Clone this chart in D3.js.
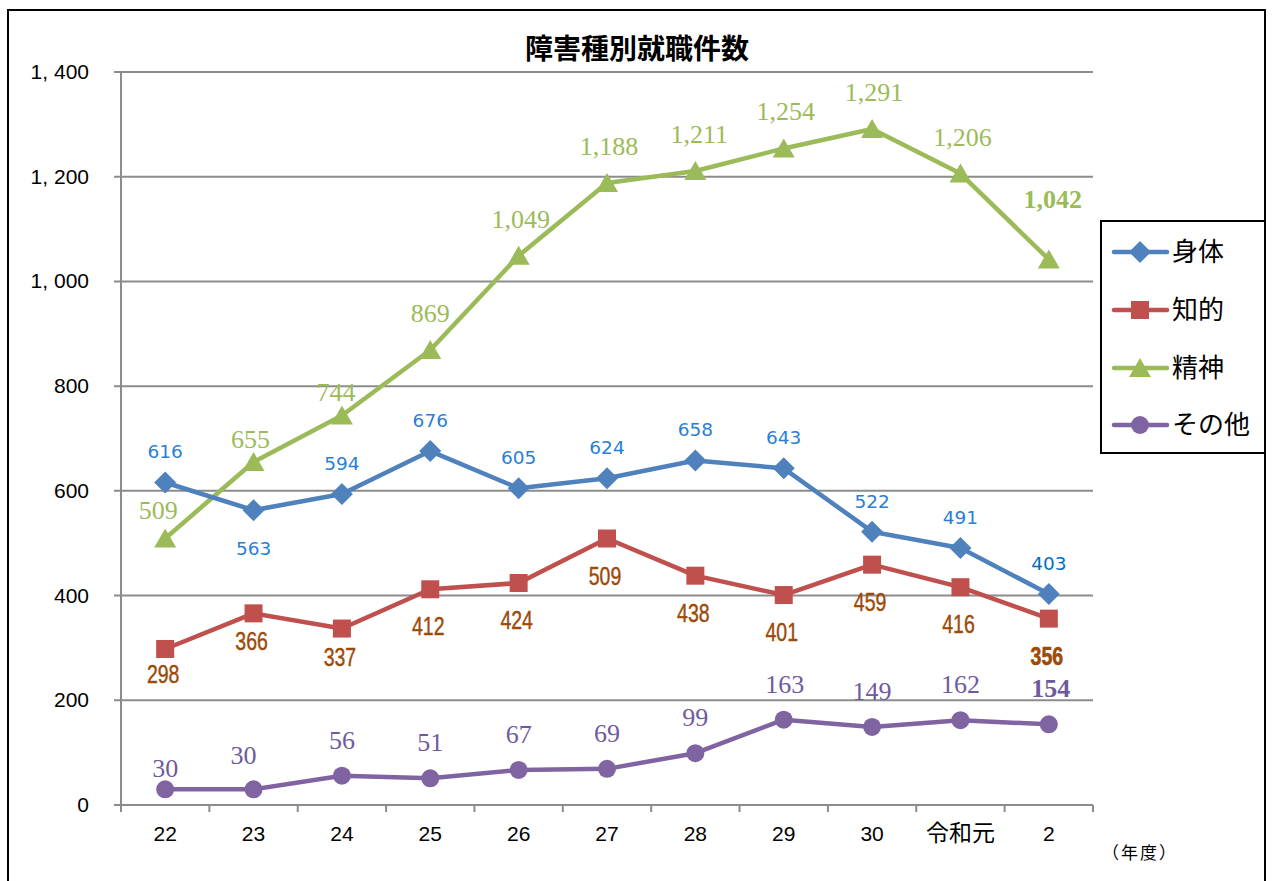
<!DOCTYPE html>
<html><head><meta charset="utf-8">
<script src="https://cdn.jsdelivr.net/npm/d3@7"></script>
<style>
html,body{margin:0;padding:0;background:#fff;}
svg{display:block;}
</style></head>
<body>
<svg id="chart" width="1277" height="881"></svg>
<script>
const years = ["22","23","24","25","26","27","28","29","30","令和元","2"];
const shintai = [616,563,594,676,605,624,658,643,522,491,403];
const chiteki = [298,366,337,412,424,509,438,401,459,416,356];
const seishin = [509,655,744,869,1049,1188,1211,1254,1291,1206,1042];
const sonota  = [30,30,56,51,67,69,99,163,149,162,154];
const seriesNames = ["身体","知的","精神","その他"];
const yTicks = [0,200,400,600,800,1000,1200,1400];
const yTickLabels = ["0","200","400","600","800","1, 000","1, 200","1, 400"];
const shintaiLabelSide = ["t","b","t","t","t","t","t","t","t","t","t"];

const svg = d3.select("#chart");
const M = {l:121, r:1093, t:72, b:805};
const x = d3.scaleBand().domain(years).range([M.l, M.r]);
const y = d3.scaleLinear().domain([0,1400]).range([M.b, M.t]);
const cx = d => x(d) + x.bandwidth()/2;

// outer border
svg.append("rect").attr("x",8).attr("y",10).attr("width",1257).attr("height",900)
  .attr("fill","none").attr("stroke","#000").attr("stroke-width",2);

// title
svg.append("text").attr("x",637).attr("y",59).attr("text-anchor","middle")
  .attr("font-family","'Noto Sans CJK JP'").attr("font-weight","bold").attr("font-size",28)
  .text("障害種別就職件数");

// gridlines
svg.append("g").selectAll("line").data(yTicks).join("line")
  .attr("x1",M.l-7).attr("x2",M.r).attr("y1",d=>y(d)).attr("y2",d=>y(d))
  .attr("stroke","#8c8c8c").attr("stroke-width",2);
// y axis line
svg.append("line").attr("x1",M.l).attr("x2",M.l).attr("y1",M.t).attr("y2",M.b+6)
  .attr("stroke","#8c8c8c").attr("stroke-width",2);
// y labels
svg.append("g").selectAll("text").data(yTicks).join("text")
  .attr("x",89).attr("y",d=>y(d)+7).attr("text-anchor","end")
  .attr("font-family","'Liberation Sans',sans-serif").attr("font-size",21)
  .attr("fill","#000")
  .text((d,i)=>yTickLabels[i]);
// x axis ticks
const xb = years.map(d=>x(d)).concat([M.r]);
svg.append("g").selectAll("line").data(xb).join("line")
  .attr("x1",d=>d).attr("x2",d=>d).attr("y1",M.b).attr("y2",M.b+7)
  .attr("stroke","#8c8c8c").attr("stroke-width",2);
svg.append("g").selectAll("text").data(years).join("text")
  .attr("x",d=>cx(d)).attr("y",841).attr("text-anchor","middle")
  .attr("font-family","'Liberation Sans','Noto Sans CJK JP',sans-serif")
  .attr("font-size",d=>/^\d+$/.test(d)?21:23)
  .text(d=>d);
svg.append("text").attr("x",1140).attr("y",859).attr("text-anchor","middle")
  .attr("font-family","'Noto Sans CJK JP'").attr("font-size",17).attr("letter-spacing",2).text("（年度）");

const colors = ["#4f81bd","#c0504d","#9bbb59","#8064a2"];
const allData = [shintai, chiteki, seishin, sonota];

function marker(g, type, color, px, py) {
  if (type===0) g.append("path").attr("d",`M${px},${py-11}L${px+11},${py}L${px},${py+11}L${px-11},${py}Z`).attr("fill",color);
  else if (type===1) g.append("rect").attr("x",px-9).attr("y",py-9).attr("width",18).attr("height",18).attr("fill",color);
  else if (type===2) g.append("path").attr("d",`M${px},${py-10}L${px+11},${py+9}L${px-11},${py+9}Z`).attr("fill",color);
  else g.append("circle").attr("cx",px).attr("cy",py).attr("r",9).attr("fill",color);
}

const line = d3.line().x((d,i)=>cx(years[i])).y(d=>y(d));
[2,0,1,3].forEach(si=>{
  const g = svg.append("g");
  g.append("path").datum(allData[si]).attr("d",line).attr("fill","none")
    .attr("stroke",colors[si]).attr("stroke-width",4.5).attr("stroke-linejoin","round");
  allData[si].forEach((v,i)=>marker(g, si, colors[si], cx(years[i]), y(v)));
});

// data labels
const fmt = d3.format(",");
const lg = svg.append("g");
// 身体
shintai.forEach((v,i)=>{
  const last = i===shintai.length-1;
  const dy = shintaiLabelSide[i]==="t" ? -31 : 38;
  lg.append("text").attr("x",cx(years[i])).attr("y",y(v)+dy+7).attr("text-anchor","middle")
    .attr("font-family","'DejaVu Sans',sans-serif").attr("font-size",18.5)
    .attr("fill", last? "#0070c0":"#2a7fd4").text(fmt(v));
});
// 知的
const chitekiNudge = [-12,-9,-9,0,0,0,0,0,0,0,0];
chiteki.forEach((v,i)=>{
  const last = i===chiteki.length-1;
  lg.append("text")
    .attr("transform",`translate(${cx(years[i])-2},${y(v)+37+chitekiNudge[i]+9}) scale(0.78,1)`)
    .attr("text-anchor","middle")
    .attr("font-family","'Liberation Sans',sans-serif").attr("font-size",25)
    .attr("font-weight", last? "bold":"normal")
    .attr("stroke","#9c4a08").attr("stroke-width", last?0.6:0.4)
    .attr("fill","#9c4a08").text(fmt(v));
});
// 精神
const seishinNudge = [[-7,8],[-3,14],[-6,14],[0,0],[2,0],[2,0],[4,0],[2,0],[2,0],[2,0],[4,-23]];
seishin.forEach((v,i)=>{
  const last = i===seishin.length-1;
  lg.append("text").attr("x",cx(years[i])+seishinNudge[i][0]).attr("y",y(v)-36+seishinNudge[i][1]+8).attr("text-anchor","middle")
    .attr("font-family","'Liberation Serif',serif").attr("font-size",26)
    .attr("font-weight", last? "bold":"normal")
    .attr("fill","#9bbb59").text(fmt(v));
});
// その他
const sonotaNudge = [[0,15],[-10,2],[0,0],[0,0],[0,0],[0,0],[0,0],[1,0],[0,0],[0,0],[2,0]];
sonota.forEach((v,i)=>{
  const last = i===sonota.length-1;
  lg.append("text").attr("x",cx(years[i])+sonotaNudge[i][0]).attr("y",y(v)-35+sonotaNudge[i][1]+8).attr("text-anchor","middle")
    .attr("font-family","'Liberation Serif',serif").attr("font-size",26)
    .attr("font-weight", last? "bold":"normal")
    .attr("fill","#6f5a9e").text(fmt(v));
});

// legend
const leg = svg.append("g");
leg.append("rect").attr("x",1101).attr("y",221).attr("width",164).attr("height",232)
  .attr("fill","#fff").attr("stroke","#000").attr("stroke-width",2);
const legY = [252,310,368,425];
seriesNames.forEach((n,i)=>{
  leg.append("line").attr("x1",1114).attr("x2",1167).attr("y1",legY[i]).attr("y2",legY[i])
    .attr("stroke",colors[i]).attr("stroke-width",4.5).attr("stroke-linecap","round");
  marker(leg, i, colors[i], 1140, legY[i]);
  leg.append("text").attr("x",1172).attr("y",legY[i]+9).attr("font-family","'Noto Sans CJK JP'")
    .attr("font-size",26).text(n);
});
</script>
</body></html>
